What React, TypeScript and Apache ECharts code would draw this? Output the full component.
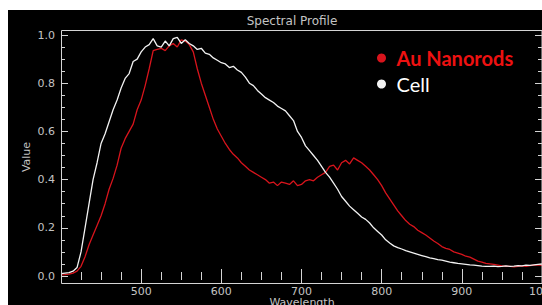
import React, { useEffect, useRef } from "react";
import * as echarts from "echarts";

const wavelengths = [
  400, 405, 410, 415, 420, 425, 430, 435, 440, 445, 450, 455, 460, 465, 470, 475, 480, 485, 490, 495,
  500, 505, 510, 515, 520, 525, 530, 535, 540, 545, 550, 555, 560, 565, 570, 575, 580, 585, 590, 595,
  600, 605, 610, 615, 620, 625, 630, 635, 640, 645, 650, 655, 660, 665, 670, 675, 680, 685, 690, 695,
  700, 705, 710, 715, 720, 725, 730, 735, 740, 745, 750, 755, 760, 765, 770, 775, 780, 785, 790, 795,
  800, 805, 810, 815, 820, 825, 830, 835, 840, 845, 850, 855, 860, 865, 870, 875, 880, 885, 890, 895,
  900, 905, 910, 915, 920, 925, 930, 935, 940, 945, 950, 955, 960, 965, 970, 975, 980, 985, 990, 995,
  1000,
];

const cellValues = [
  0.010, 0.012, 0.014, 0.020, 0.035, 0.100, 0.200, 0.300, 0.400, 0.470, 0.550, 0.590, 0.640, 0.690, 0.730, 0.780, 0.820, 0.840, 0.890, 0.900,
  0.930, 0.950, 0.960, 0.985, 0.955, 0.950, 0.975, 0.955, 0.985, 0.990, 0.965, 0.980, 0.965, 0.955, 0.940, 0.945, 0.925, 0.920, 0.905, 0.895,
  0.885, 0.880, 0.865, 0.870, 0.855, 0.845, 0.825, 0.800, 0.790, 0.770, 0.755, 0.740, 0.730, 0.720, 0.705, 0.695, 0.685, 0.665, 0.645, 0.600,
  0.575, 0.540, 0.520, 0.500, 0.480, 0.455, 0.430, 0.410, 0.385, 0.360, 0.330, 0.310, 0.290, 0.275, 0.260, 0.245, 0.235, 0.220, 0.200, 0.185,
  0.170, 0.150, 0.137, 0.125, 0.118, 0.112, 0.105, 0.100, 0.095, 0.090, 0.085, 0.080, 0.075, 0.072, 0.068, 0.066, 0.062, 0.058, 0.055, 0.052,
  0.050, 0.048, 0.046, 0.045, 0.043, 0.041, 0.040, 0.040, 0.041, 0.039, 0.040, 0.042, 0.040, 0.041, 0.043, 0.042, 0.045, 0.044, 0.046, 0.048,
  0.050,
];

const auValues = [
  0.005, 0.006, 0.008, 0.012, 0.020, 0.040, 0.080, 0.130, 0.170, 0.210, 0.250, 0.300, 0.360, 0.405, 0.460, 0.530, 0.570, 0.600, 0.630, 0.690,
  0.730, 0.790, 0.860, 0.935, 0.940, 0.945, 0.935, 0.955, 0.965, 0.950, 0.980, 0.975, 0.960, 0.930, 0.860, 0.800, 0.750, 0.700, 0.650, 0.610,
  0.580, 0.550, 0.525, 0.505, 0.490, 0.470, 0.455, 0.440, 0.430, 0.420, 0.410, 0.400, 0.385, 0.390, 0.375, 0.390, 0.385, 0.380, 0.395, 0.375,
  0.380, 0.395, 0.400, 0.395, 0.410, 0.420, 0.430, 0.455, 0.460, 0.440, 0.470, 0.480, 0.465, 0.490, 0.480, 0.470, 0.455, 0.440, 0.420, 0.400,
  0.375, 0.345, 0.320, 0.295, 0.270, 0.250, 0.230, 0.215, 0.205, 0.190, 0.180, 0.170, 0.158, 0.145, 0.135, 0.122, 0.115, 0.110, 0.100, 0.095,
  0.090, 0.082, 0.078, 0.070, 0.062, 0.058, 0.052, 0.050, 0.048, 0.045, 0.042, 0.040, 0.040, 0.038, 0.040, 0.042, 0.040, 0.043, 0.045, 0.046,
  0.044,
];

const yTicks = [0, 0.2, 0.4, 0.6, 0.8, 1.0];
const xMaxLabel = "1000";

const AXIS = "#d4d4d4";
const TXT = "#c4c4c4";
const RED = "#d8141c";
const WHITE = "#f2f2f2";

export default function App() {
  const ref = useRef<HTMLDivElement>(null);
  useEffect(() => {
    if (!ref.current) return;
    const chart = echarts.init(ref.current, undefined, { renderer: "svg" });
    const tickCommon = {
      axisLine: { show: false },
      axisTick: { show: true, inside: true, length: 7, lineStyle: { color: AXIS, width: 1 } },
      minorTick: { show: true, splitNumber: 4, length: 4, lineStyle: { color: AXIS, width: 1 } },
      splitLine: { show: false },
      minorSplitLine: { show: false },
    };
    chart.setOption({
      animation: false,
      backgroundColor: "#000000",
      textStyle: { fontFamily: "DejaVu Sans" },
      grid: { left: 53, right: 0, top: 25, bottom: 29, containLabel: false },
      xAxis: [
        {
          type: "value",
          position: "bottom",
          min: 400,
          max: 1000,
          interval: 100,
          offset: 7,
          ...tickCommon,
          axisLabel: {
            show: true,
            color: TXT,
            fontSize: 11,
            margin: 3,
            showMinLabel: false,
            showMaxLabel: false,
            fontFamily: "DejaVu Sans",
            formatter: (v: number) => String(v),
          },
        },
        {
          type: "value",
          position: "top",
          min: 400,
          max: 1000,
          interval: 100,
          offset: 5,
          ...tickCommon,
          axisLabel: { show: false },
        },
      ],
      yAxis: [
        {
          type: "value",
          position: "left",
          min: 0,
          max: 1,
          interval: 0.2,
          ...tickCommon,
          axisLabel: {
            show: true,
            color: TXT,
            fontSize: 11,
            margin: 6,
            fontFamily: "DejaVu Sans",
            formatter: (v: number) => (yTicks.includes(Math.round(v * 10) / 10) ? v.toFixed(1) : ""),
          },
        },
        {
          type: "value",
          position: "right",
          min: 0,
          max: 1,
          interval: 0.2,
          ...tickCommon,
          axisLabel: { show: false },
        },
      ],
      legend: {
        orient: "vertical",
        left: 364,
        top: 33,
        icon: "circle",
        itemWidth: 20,
        itemHeight: 9,
        itemGap: 6,
        selectedMode: false,
        data: [
          {
            name: "Au Nanorods",
            textStyle: { color: "#ee1111", fontWeight: "bold", fontSize: 20, fontFamily: "Lato" },
          },
          {
            name: "Cell",
            textStyle: { color: "#ffffff", fontWeight: "normal", fontSize: 20, fontFamily: "Lato" },
          },
        ],
      },
      graphic: [
        {
          type: "rect",
          shape: { x: 53.5, y: 20.5, width: 480.5, height: 253 },
          style: { fill: "none", stroke: AXIS, lineWidth: 1 },
          silent: true,
          z: 10,
        },
        {
          type: "text",
          x: 284,
          y: 11,
          style: {
            text: "Spectral Profile",
            fill: TXT,
            fontSize: 12,
            fontFamily: "DejaVu Sans",
            align: "center",
            verticalAlign: "middle",
          },
        },
        {
          type: "text",
          x: 18,
          y: 147,
          rotation: Math.PI / 2,
          style: {
            text: "Value",
            fill: TXT,
            fontSize: 11,
            fontFamily: "DejaVu Sans",
            align: "center",
            verticalAlign: "middle",
          },
        },
        {
          type: "text",
          x: 294,
          y: 287,
          style: {
            text: "Wavelength",
            fill: TXT,
            fontSize: 11,
            fontFamily: "DejaVu Sans",
            align: "center",
            verticalAlign: "top",
          },
        },
        {
          type: "text",
          x: 535,
          y: 276,
          style: {
            text: xMaxLabel,
            fill: TXT,
            fontSize: 11,
            fontFamily: "DejaVu Sans",
            align: "center",
            verticalAlign: "top",
          },
        },
      ],
      series: [
        {
          name: "Au Nanorods",
          type: "line",
          xAxisIndex: 0,
          yAxisIndex: 0,
          showSymbol: false,
          symbol: "circle",
          color: RED,
          lineStyle: { color: RED, width: 1.3 },
          data: wavelengths.map((w, i) => [w, auValues[i]]),
          clip: false,
        },
        {
          name: "Cell",
          type: "line",
          xAxisIndex: 0,
          yAxisIndex: 0,
          showSymbol: false,
          symbol: "circle",
          color: WHITE,
          lineStyle: { color: WHITE, width: 1.3 },
          data: wavelengths.map((w, i) => [w, cellValues[i]]),
          clip: false,
        },
      ],
    });
    return () => chart.dispose();
  }, []);
  return (
    <div
      ref={ref}
      style={{ position: "absolute", left: 8, top: 10, width: 534, height: 295 }}
    />
  );
}
